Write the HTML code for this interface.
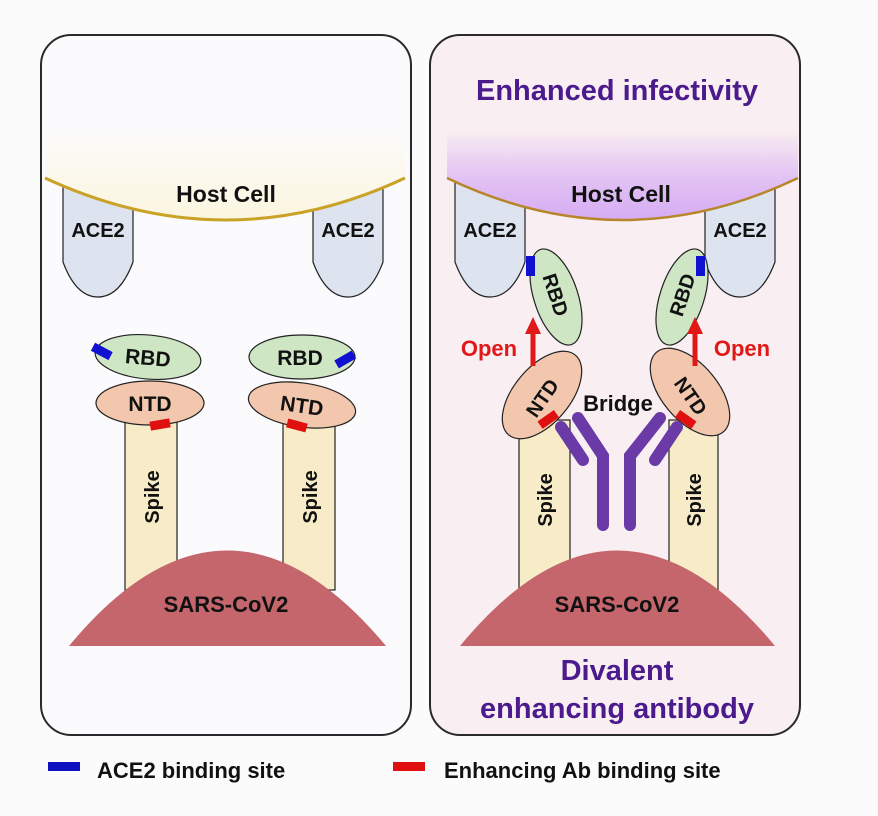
<!DOCTYPE html>
<html><head><meta charset="utf-8"><style>
html,body{margin:0;padding:0;background:#fbfbfb;}
svg{display:block;}
text{font-family:"Liberation Sans",Arial,sans-serif;font-weight:bold;}
</style></head><body>
<svg width="878" height="816" viewBox="0 0 878 816" xmlns="http://www.w3.org/2000/svg">
<defs>
<linearGradient id="yg" x1="0" y1="0" x2="0" y2="1">
<stop offset="0" stop-color="#fbfbfb"/><stop offset="1" stop-color="#fbf6df"/>
</linearGradient>
<linearGradient id="pg" x1="0" y1="0" x2="0" y2="1">
<stop offset="0" stop-color="#f9eef1"/><stop offset="0.5" stop-color="#e3c4f3"/><stop offset="1" stop-color="#d5acf3"/>
</linearGradient>
</defs>
<rect width="878" height="816" fill="#fbfbfb"/>
<!-- Left panel -->
<rect x="41" y="35" width="370" height="700" rx="30" fill="#fbfbfd" stroke="#2a2a2a" stroke-width="2"/>
<path d="M63,180 L133,180 L133,262 Q120,297 98,297 Q76,297 63,262 Z" fill="#dde3ef" stroke="#222" stroke-width="1.2"/>
<path d="M313,180 L383,180 L383,262 Q370,297 348,297 Q326,297 313,262 Z" fill="#dde3ef" stroke="#222" stroke-width="1.2"/>
<path d="M45,130 L405,130 L405,178 Q226,262 45,178 Z" fill="url(#yg)"/>
<path d="M45,178 Q226,262 405,178" fill="none" stroke="#c9a227" stroke-width="3"/>
<text x="226" y="202" font-size="23" text-anchor="middle" fill="#111">Host Cell</text>
<text x="98" y="237" font-size="20" text-anchor="middle" fill="#111">ACE2</text>
<text x="348" y="237" font-size="20" text-anchor="middle" fill="#111">ACE2</text>
<rect x="125" y="420" width="52" height="170" fill="#f8ecc8" stroke="#222" stroke-width="1.2"/>
<rect x="283" y="420" width="52" height="170" fill="#f8ecc8" stroke="#222" stroke-width="1.2"/>
<text transform="translate(159,497) rotate(-90)" font-size="20" text-anchor="middle" fill="#111">Spike</text>
<text transform="translate(317,497) rotate(-90)" font-size="20" text-anchor="middle" fill="#111">Spike</text>
<ellipse cx="148" cy="357" rx="53" ry="22" transform="rotate(5 148 357)" fill="#cfe6c5" stroke="#222" stroke-width="1.2"/>
<rect x="92" y="347" width="20" height="9" fill="#1010d0" transform="rotate(28 102 351)"/>
<text x="148" y="365" font-size="21" text-anchor="middle" fill="#111" transform="rotate(5 148 357)">RBD</text>
<ellipse cx="150" cy="403" rx="54" ry="22" fill="#f2c7ad" stroke="#222" stroke-width="1.2"/>
<rect x="150" y="420" width="20" height="9" fill="#e01010" transform="rotate(-10 160 424)"/>
<text x="150" y="411" font-size="21" text-anchor="middle" fill="#111">NTD</text>
<ellipse cx="302" cy="357" rx="53" ry="22" fill="#cfe6c5" stroke="#222" stroke-width="1.2"/>
<rect x="335" y="355" width="20" height="9" fill="#1010d0" transform="rotate(-30 345 359)"/>
<text x="300" y="365" font-size="21" text-anchor="middle" fill="#111">RBD</text>
<ellipse cx="302" cy="405" rx="54" ry="22" transform="rotate(8 302 405)" fill="#f2c7ad" stroke="#222" stroke-width="1.2"/>
<rect x="287" y="421" width="20" height="9" fill="#e01010" transform="rotate(15 297 425)"/>
<text x="302" y="413" font-size="21" text-anchor="middle" fill="#111" transform="rotate(8 302 405)">NTD</text>
<path d="M69,646 Q227,455 386,646 Z" fill="#c4666c"/>
<text x="226" y="612" font-size="22" text-anchor="middle" fill="#111">SARS-CoV2</text>

<!-- Right panel -->
<rect x="430" y="35" width="370" height="700" rx="30" fill="#f9eff2" stroke="#2a2a2a" stroke-width="2"/>
<path d="M455,180 L525,180 L525,262 Q512,297 490,297 Q468,297 455,262 Z" fill="#dde3ef" stroke="#222" stroke-width="1.2"/>
<path d="M705,180 L775,180 L775,262 Q762,297 740,297 Q718,297 705,262 Z" fill="#dde3ef" stroke="#222" stroke-width="1.2"/>
<path d="M447,130 L798,130 L798,178 Q622,262 447,178 Z" fill="url(#pg)"/>
<text x="617" y="100" font-size="29" text-anchor="middle" fill="#4b1a8c">Enhanced infectivity</text>
<path d="M447,178 Q622,262 798,178" fill="none" stroke="#b8862a" stroke-width="2.5"/>
<text x="621" y="202" font-size="23" text-anchor="middle" fill="#111">Host Cell</text>
<text x="490" y="237" font-size="20" text-anchor="middle" fill="#111">ACE2</text>
<text x="740" y="237" font-size="20" text-anchor="middle" fill="#111">ACE2</text>
<rect x="519" y="420" width="51" height="170" fill="#f8ecc8" stroke="#222" stroke-width="1.2"/>
<rect x="669" y="420" width="49" height="170" fill="#f8ecc8" stroke="#222" stroke-width="1.2"/>
<text transform="translate(552,500) rotate(-90)" font-size="20" text-anchor="middle" fill="#111">Spike</text>
<text transform="translate(701,500) rotate(-90)" font-size="20" text-anchor="middle" fill="#111">Spike</text>
<ellipse cx="556" cy="297" rx="22" ry="50" transform="rotate(-18 556 297)" fill="#cfe6c5" stroke="#222" stroke-width="1.2"/>
<rect x="526" y="256" width="9" height="20" fill="#1010d0"/>
<text transform="translate(549,297) rotate(72)" font-size="20" text-anchor="middle" fill="#111">RBD</text>
<ellipse cx="682" cy="297" rx="22" ry="50" transform="rotate(18 682 297)" fill="#cfe6c5" stroke="#222" stroke-width="1.2"/>
<rect x="696" y="256" width="9" height="20" fill="#1010d0"/>
<text transform="translate(689,297) rotate(-72)" font-size="20" text-anchor="middle" fill="#111">RBD</text>
<ellipse cx="542" cy="395" rx="52" ry="28" transform="rotate(-50 542 395)" fill="#f2c7ad" stroke="#222" stroke-width="1.2"/>
<rect x="538" y="415" width="20" height="9" fill="#e01010" transform="rotate(-35 548 419)"/>
<text transform="translate(548,402) rotate(-55)" font-size="20" text-anchor="middle" fill="#111">NTD</text>
<ellipse cx="690" cy="392" rx="52" ry="28" transform="rotate(50 690 392)" fill="#f2c7ad" stroke="#222" stroke-width="1.2"/>
<rect x="676" y="415" width="20" height="9" fill="#e01010" transform="rotate(35 686 419)"/>
<text transform="translate(685,400) rotate(55)" font-size="20" text-anchor="middle" fill="#111">NTD</text>
<path d="M533,366 L533,332" stroke="#e01818" stroke-width="5"/>
<path d="M525,334 L533,317 L541,334 Z" fill="#e01818"/>
<text x="489" y="356" font-size="22" text-anchor="middle" fill="#e01818">Open</text>
<path d="M695,366 L695,332" stroke="#e01818" stroke-width="5"/>
<path d="M687,334 L695,317 L703,334 Z" fill="#e01818"/>
<text x="742" y="356" font-size="22" text-anchor="middle" fill="#e01818">Open</text>
<text x="618" y="411" font-size="22" text-anchor="middle" fill="#111">Bridge</text>
<g stroke="#6a3aa6" stroke-width="12" stroke-linecap="round" fill="none">
<path d="M561,427 L583,460"/>
<path d="M578,418 L603,456 L603,525"/>
<path d="M677,427 L655,460"/>
<path d="M660,418 L630,456 L630,525"/>
</g>
<path d="M460,646 Q617,455 775,646 Z" fill="#c4666c"/>
<text x="617" y="612" font-size="22" text-anchor="middle" fill="#111">SARS-CoV2</text>
<text x="617" y="680" font-size="29" text-anchor="middle" fill="#4b1a8c">Divalent</text>
<text x="617" y="718" font-size="29" text-anchor="middle" fill="#4b1a8c">enhancing antibody</text>
<rect x="48" y="762" width="32" height="9" fill="#1010c0"/>
<text x="97" y="778" font-size="22" fill="#111">ACE2 binding site</text>
<rect x="393" y="762" width="32" height="9" fill="#e01010"/>
<text x="444" y="778" font-size="22" fill="#111">Enhancing Ab binding site</text>
</svg>
</body></html>
